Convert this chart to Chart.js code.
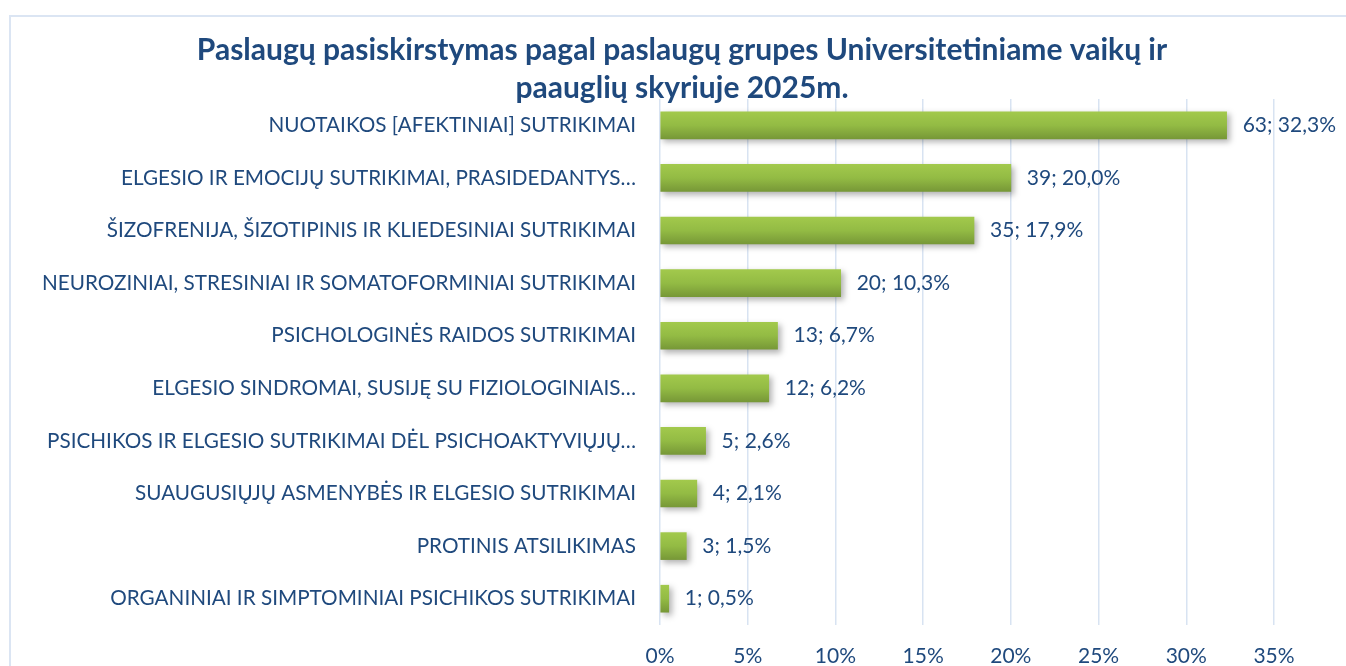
<!DOCTYPE html>
<html>
<head>
<meta charset="utf-8">
<script src="https://cdn.jsdelivr.net/npm/chart.js@4/dist/chart.umd.min.js"></script>
<style>
  html, body { margin: 0; padding: 0; background: #fff; overflow: hidden; }
  #wrap { position: relative; width: 1346px; height: 666px; }
  #frame { position: absolute; left: 9px; top: 15px; width: 1400px; height: 700px;
           border: 2px solid #dbe5f3; pointer-events: none; }
  #chart { position: absolute; left: 0; top: 0; }
</style>
</head>
<body>
<div id="wrap">
  <div id="frame"></div>
  <canvas id="chart" width="1346" height="666"></canvas>
</div>
<script>
const titleLines = [
  "Paslaugų pasiskirstymas pagal paslaugų grupes Universitetiniame vaikų ir",
  "paauglių skyriuje 2025m."
];
const categories = [
  "NUOTAIKOS [AFEKTINIAI] SUTRIKIMAI",
  "ELGESIO IR EMOCIJŲ SUTRIKIMAI, PRASIDEDANTYS…",
  "ŠIZOFRENIJA, ŠIZOTIPINIS IR KLIEDESINIAI SUTRIKIMAI",
  "NEUROZINIAI, STRESINIAI IR SOMATOFORMINIAI SUTRIKIMAI",
  "PSICHOLOGINĖS RAIDOS SUTRIKIMAI",
  "ELGESIO SINDROMAI, SUSIJĘ SU FIZIOLOGINIAIS…",
  "PSICHIKOS IR ELGESIO SUTRIKIMAI DĖL PSICHOAKTYVIŲJŲ…",
  "SUAUGUSIŲJŲ ASMENYBĖS IR ELGESIO SUTRIKIMAI",
  "PROTINIS ATSILIKIMAS",
  "ORGANINIAI IR SIMPTOMINIAI PSICHIKOS SUTRIKIMAI"
];
const counts = [63, 39, 35, 20, 13, 12, 5, 4, 3, 1];
const percents = [32.3, 20.0, 17.9, 10.3, 6.7, 6.2, 2.6, 2.1, 1.5, 0.5];
const percentLabels = ["32,3%", "20,0%", "17,9%", "10,3%", "6,7%", "6,2%", "2,6%", "2,1%", "1,5%", "0,5%"];
const xTicks = [0, 5, 10, 15, 20, 25, 30, 35];

const textColor = "#1f497d";
const gridColor = "#d8e3f2";
const fontName = "Lato, 'Open Sans', sans-serif";

// gradient per bar, top light -> bottom dark
function barGradient(context) {
  const chart = context.chart;
  const yScale = chart.scales.y;
  if (!yScale || context.type !== "data") return "#8db443";
  const c = yScale.getPixelForValue(context.dataIndex);
  if (!isFinite(c)) return "#8db443";
  const g = chart.ctx.createLinearGradient(0, c - 13.5, 0, c + 13.5);
  g.addColorStop(0, "#a2c94c");
  g.addColorStop(0.5, "#93bb44");
  g.addColorStop(1, "#779837");
  return g;
}

const shadowPlugin = {
  id: "barShadow",
  beforeDatasetsDraw(chart) {
    const ctx = chart.ctx;
    ctx.save();
    ctx.shadowColor = "rgba(0,0,0,0.3)";
    ctx.shadowBlur = 6;
    ctx.shadowOffsetX = 3;
    ctx.shadowOffsetY = 3;
  },
  afterDatasetsDraw(chart) {
    chart.ctx.restore();
    // value labels
    const ctx = chart.ctx;
    const meta = chart.getDatasetMeta(0);
    ctx.save();
    ctx.font = "21px " + fontName;
    ctx.fillStyle = textColor;
    ctx.textAlign = "left";
    ctx.textBaseline = "middle";
    meta.data.forEach((bar, i) => {
      ctx.fillText(counts[i] + "; " + percentLabels[i], bar.x + 16, bar.y);
    });
    ctx.restore();
  }
};

const myChart = new Chart(document.getElementById("chart"), {
  type: "bar",
  data: {
    labels: categories,
    datasets: [{
      data: percents,
      backgroundColor: barGradient,
      borderWidth: 0,
      barThickness: 27
    }]
  },
  options: {
    indexAxis: "y",
    responsive: false,
    animation: false,
    devicePixelRatio: 1,
    layout: { padding: { left: 18, right: 0, top: 0, bottom: 0 } },
    plugins: {
      legend: { display: false },
      tooltip: { enabled: false },
      title: {
        display: true,
        text: titleLines,
        color: textColor,
        font: { family: fontName, size: 30, weight: "bold", lineHeight: 1.267 },
        padding: { top: 31, bottom: -8 }
      }
    },
    scales: {
      x: {
        min: 0,
        max: 35,
        afterBuildTicks(scale) {
          scale.ticks = xTicks.map(v => ({ value: v }));
        },
        afterFit(scale) { scale.height = 41; },
        grid: { color: gridColor, lineWidth: 1.5, drawTicks: false },
        border: { display: false },
        ticks: {
          color: textColor,
          font: { family: fontName, size: 21 },
          padding: 19,
          callback: v => v + "%"
        }
      },
      y: {
        afterFit(scale) { scale.width = 642; },
        grid: { display: false, drawTicks: false },
        border: { display: false },
        ticks: {
          color: textColor,
          font: { family: fontName, size: 20.7 },
          padding: 24,
          autoSkip: false
        }
      },
      // empty right axis, only keeps room for the value labels
      yRight: {
        type: "category",
        position: "right",
        afterFit(scale) { scale.width = 72; },
        grid: { display: false, drawTicks: false },
        border: { display: false },
        ticks: { display: false }
      }
    }
  },
  plugins: [shadowPlugin]
});
</script>
</body>
</html>
